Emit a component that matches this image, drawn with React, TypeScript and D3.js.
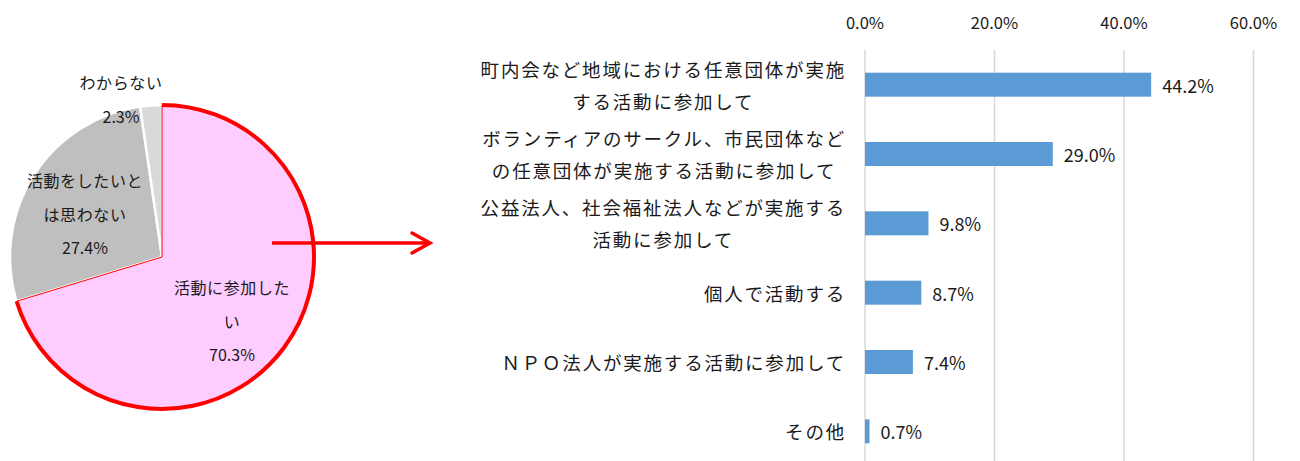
import React, { useEffect, useRef } from "react";
import * as d3 from "d3";

// Pie: intention to take part in activities
const pieLabels = [["活動に参加した", "い"], ["活動をしたいと", "は思わない"], ["わからない"]];
const pieValues = [70.3, 27.4, 2.3];
const pieColors = ["#FFCCFF", "#BFBFBF", "#D9D9D9"];

// Bar: preferred form of participation
const barCategories = [
  ["町内会など地域における任意団体が実施", "する活動に参加して"],
  ["ボランティアのサークル、市民団体など", "の任意団体が実施する活動に参加して"],
  ["公益法人、社会福祉法人などが実施する", "活動に参加して"],
  ["個人で活動する"],
  ["ＮＰＯ法人が実施する活動に参加して"],
  ["その他"],
];
const barValues = [44.2, 29.0, 9.8, 8.7, 7.4, 0.7];
const xTicks = [0, 20, 40, 60];

const W = 1300;
const H = 461;
const FONT = "'Noto Sans CJK JP', 'Noto Sans', sans-serif";
const TEXT = "#1a1a1a";

export default function App() {
  const ref = useRef<SVGSVGElement | null>(null);

  useEffect(() => {
    const svg = d3.select(ref.current);
    svg.selectAll("*").remove();

    // ---------- pie ----------
    const cx = 162, cy = 257, r = 152;
    const pie = d3.pie<number>().sort(null).value((d) => d)(pieValues);
    const arc = d3.arc<d3.PieArcDatum<number>>().innerRadius(0).outerRadius(r);
    const pg = svg.append("g").attr("transform", `translate(${cx},${cy})`);

    pg.selectAll("path.slice")
      .data(pie)
      .join("path")
      .attr("class", "slice")
      .attr("d", arc)
      .attr("fill", (_, i) => pieColors[i])
      .attr("stroke", "#fff")
      .attr("stroke-width", 2.5);

    // highlighted slice
    pg.append("path")
      .attr("d", arc(pie[0]))
      .attr("fill", pieColors[0])
      .attr("stroke", "#FF0000")
      .attr("stroke-width", 1);
    const rim = d3.arc<d3.PieArcDatum<number>>().innerRadius(r).outerRadius(r);
    pg.append("path")
      .attr("d", rim(pie[0]))
      .attr("fill", "none")
      .attr("stroke", "#FF0000")
      .attr("stroke-width", 4);

    // pie labels (lines + value)
    const pieLabelPos: [number, number][] = [[232, 287], [85, 180], [121, 82]];
    const lineGap = 33.5;
    pie.forEach((d, i) => {
      const lines = [...pieLabels[i], `${pieValues[i].toFixed(1)}%`];
      const [lx, ly] = pieLabelPos[i];
      lines.forEach((t, j) => {
        svg.append("text")
          .attr("x", lx)
          .attr("y", ly + j * lineGap)
          .attr("text-anchor", "middle")
          .attr("dominant-baseline", "central")
          .attr("font-family", FONT)
          .attr("font-size", 16)
          .attr("letter-spacing", t.includes("%") ? 0 : 0.6)
          .attr("fill", TEXT)
          .text(t);
      });
    });

    // arrow
    const ay = 243;
    svg.append("line")
      .attr("x1", 272).attr("y1", ay).attr("x2", 430).attr("y2", ay)
      .attr("stroke", "#FF0000").attr("stroke-width", 3.5);
    svg.append("path")
      .attr("d", `M412,${ay - 10}L430,${ay}L412,${ay + 10}`)
      .attr("fill", "none")
      .attr("stroke", "#FF0000")
      .attr("stroke-width", 3.5)
      .attr("stroke-linecap", "round")
      .attr("stroke-linejoin", "miter");

    // ---------- bar ----------
    const x = d3.scaleLinear().domain([0, 60]).range([865, 1253.5]);
    const y = d3.scaleBand<number>()
      .domain(barValues.map((_, i) => i))
      .range([50, 466])
      .paddingInner(0.654)
      .paddingOuter(0.327);

    const bg = svg.append("g");
    bg.selectAll("line.grid")
      .data(xTicks)
      .join("line")
      .attr("class", "grid")
      .attr("x1", (d) => x(d)).attr("x2", (d) => x(d))
      .attr("y1", 50).attr("y2", H)
      .attr("stroke", "#D9D9D9").attr("stroke-width", 1.5);

    bg.selectAll("text.tick")
      .data(xTicks)
      .join("text")
      .attr("class", "tick")
      .attr("x", (d) => x(d))
      .attr("y", 22)
      .attr("text-anchor", "middle")
      .attr("dominant-baseline", "central")
      .attr("font-family", FONT)
      .attr("font-size", 16.5)
      .attr("fill", TEXT)
      .text((d) => `${d.toFixed(1)}%`);

    bg.selectAll("rect.bar")
      .data(barValues)
      .join("rect")
      .attr("class", "bar")
      .attr("x", x(0))
      .attr("y", (_, i) => y(i)!)
      .attr("width", (d) => x(d) - x(0))
      .attr("height", y.bandwidth())
      .attr("fill", "#5B9BD5");

    bg.selectAll("text.val")
      .data(barValues)
      .join("text")
      .attr("class", "val")
      .attr("x", (d) => x(d) + 11)
      .attr("y", (_, i) => y(i)! + y.bandwidth() / 2)
      .attr("dominant-baseline", "central")
      .attr("font-family", FONT)
      .attr("font-size", 18)
      .attr("fill", TEXT)
      .text((d) => `${d.toFixed(1)}%`);

    // category labels: block right-aligned, lines centred within block
    const labelRight = 846;
    const catGap = 32;
    barCategories.forEach((lines, i) => {
      const yc = y(i)! + y.bandwidth() / 2;
      const g = bg.append("g");
      const nodes = lines.map((t, j) =>
        g.append("text")
          .attr("y", yc + (j - (lines.length - 1) / 2) * catGap)
          .attr("text-anchor", "middle")
          .attr("dominant-baseline", "central")
          .attr("font-family", FONT)
          .attr("font-size", 18.5)
          .attr("letter-spacing", 1.8)
          .attr("fill", TEXT)
          .text(t)
      );
      const widths = nodes.map((n) => (n.node() as SVGTextElement).getComputedTextLength());
      const maxW = Math.max(...widths);
      nodes.forEach((n) => n.attr("x", labelRight - maxW / 2));
    });
  }, []);

  return (
    <svg
      ref={ref}
      width={W}
      height={H}
      style={{ position: "absolute", left: 0, top: 0, background: "#fff" }}
    />
  );
}
